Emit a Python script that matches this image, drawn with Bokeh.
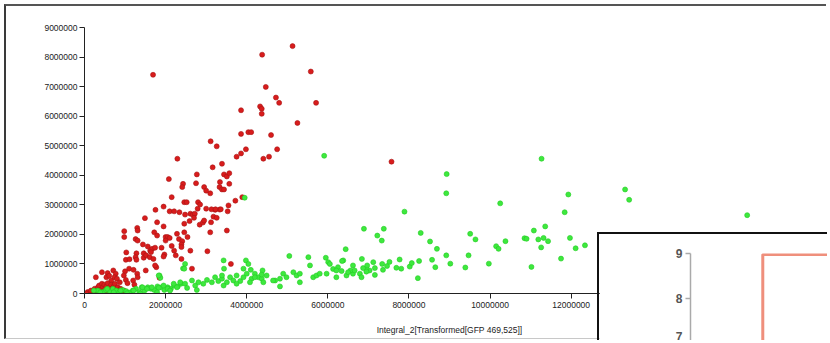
from bokeh.plotting import figure
from bokeh.models import ColumnDataSource, Range1d, FixedTicker, BasicTickFormatter
from bokeh.embed import file_html
from bokeh.resources import INLINE

# values in millions
UNIT = 1e6

red_x = [1.69, 4.38, 5.13, 5.58, 4.47, 4.72, 4.80, 5.71, 3.86, 4.33, 4.37, 4.37, 5.25, 3.86, 4.04, 4.11,
         4.60, 3.11, 3.26, 2.29, 3.98, 3.86, 3.75, 4.75, 4.55, 4.41, 3.16, 3.39, 7.57, 3.44, 3.51, 3.57,
         3.34, 3.57, 3.33, 3.39, 3.44, 3.10, 3.89, 3.72, 3.55, 3.53, 3.22, 3.33, 3.18, 3.12, 3.51, 3.10,
         3.61, 2.08, 2.77, 2.43, 2.41, 2.75, 2.95, 3.00, 2.15, 2.46, 2.52, 2.80, 1.95, 1.75, 2.10, 2.21,
         2.34, 2.48, 2.61, 2.67, 2.72, 2.79, 2.85, 3.00, 3.13, 3.23, 3.36, 1.49, 1.79, 1.95, 2.46, 2.59,
         2.70, 2.84, 2.92, 2.95, 3.26, 0.98, 0.98, 1.30, 1.31, 1.72, 1.79, 2.00, 2.05, 2.10, 2.00, 2.28,
         2.33, 2.41, 2.46, 2.54, 1.26, 1.31, 1.44, 1.56, 1.62, 1.67, 1.74, 1.90, 1.97, 1.95, 2.15, 2.21,
         2.25, 2.39, 2.39, 2.61, 3.03, 1.03, 1.02, 1.11, 1.28, 1.26, 1.28, 1.46, 1.46, 1.52, 1.64, 1.61,
         1.70, 1.10, 1.00, 1.21, 1.30, 1.31, 1.51, 1.77, 1.74, 1.85, 2.39, 2.65, 0.28, 0.43, 0.57, 0.54,
         0.61, 0.66, 0.71, 0.77, 0.74, 0.80, 0.87, 0.97, 1.02, 1.06, 1.20, 1.23,
         0.08, 0.15, 0.16, 0.25, 0.30, 0.33, 0.36, 0.39, 0.43, 0.46, 0.49, 0.51, 0.54, 0.57, 0.59, 0.62,
         0.66, 0.69, 0.72, 0.75, 0.79, 0.82, 0.85, 0.89, 0.92, 0.97, 1.02, 1.07, 0.25, 0.41, 0.33, 0.49,
         0.66, 0.05, 0.74]
red_y = [7.40, 8.08, 8.37, 7.51, 6.99, 6.63, 6.45, 6.45, 6.20, 6.33, 6.25, 6.08, 5.77, 5.40, 5.46, 5.46,
         5.36, 5.15, 4.98, 4.56, 4.88, 4.74, 4.63, 4.88, 4.63, 4.56, 4.27, 4.39, 4.46, 4.03, 3.96, 4.07,
         3.77, 3.71, 3.60, 3.52, 3.52, 3.39, 3.26, 3.14, 2.98, 2.78, 2.83, 2.84, 2.60, 2.41, 2.13, 2.07,
         1.00, 3.87, 4.03, 3.71, 3.60, 3.73, 3.60, 3.48, 3.26, 3.09, 3.09, 3.09, 2.94, 2.83, 2.78, 2.78,
         2.75, 2.67, 2.70, 2.67, 2.70, 2.87, 3.01, 2.87, 2.85, 2.85, 2.85, 2.55, 2.41, 2.27, 2.36, 2.45,
         2.56, 2.33, 2.40, 2.47, 2.56, 2.11, 1.91, 2.22, 2.13, 2.07, 1.96, 1.91, 1.91, 1.88, 1.79, 2.02,
         1.84, 1.77, 2.07, 1.91, 1.84, 1.79, 1.66, 1.59, 1.45, 1.51, 1.55, 1.55, 1.32, 1.25, 1.61, 1.45,
         1.29, 1.66, 1.57, 1.45, 1.43, 1.39, 1.14, 1.16, 1.36, 1.23, 1.14, 1.36, 1.21, 1.29, 1.40, 1.23,
         1.17, 0.84, 0.75, 0.80, 0.67, 0.55, 0.78, 0.89, 0.95, 0.53, 1.17, 0.84, 0.55, 0.72, 0.69, 0.55,
         0.60, 0.44, 0.78, 0.67, 0.55, 0.50, 0.38, 0.61, 0.46, 0.35, 0.44, 0.30,
         0.05, 0.00, 0.10, 0.16, 0.08, 0.21, 0.27, 0.12, 0.33, 0.21, 0.30, 0.15, 0.24, 0.35, 0.10, 0.21,
         0.30, 0.16, 0.24, 0.33, 0.12, 0.21, 0.08, 0.16, 0.01, 0.10, 0.03, 0.00, 0.00, 0.01, 0.05, 0.05,
         0.05, 0.00, 0.05]

green_x = [0.33, 0.45, 0.53, 0.62, 0.70, 0.78, 0.86, 0.94, 1.03, 1.11, 1.19, 1.27, 1.35, 1.41, 1.48, 1.56,
           1.64, 1.72, 1.80, 1.85, 1.87, 1.90, 1.97, 2.05, 2.13, 2.21, 2.30, 2.38, 2.43,
           0.23, 0.39, 0.56, 0.72, 0.89, 1.05, 1.21, 1.38, 1.43, 1.54, 1.66, 1.83, 1.95, 2.05, 2.20, 2.28,
           2.36, 2.48, 2.53, 2.65, 2.73, 2.81, 2.93, 3.02, 3.14, 3.22, 3.30, 3.39, 3.51, 3.59, 3.67, 3.75,
           3.84, 3.92, 4.00, 4.12, 4.20, 4.29, 4.37, 4.49, 2.11, 1.79, 2.77, 3.43, 3.75, 4.08, 4.41, 4.70,
           4.82, 5.31, 5.64, 5.97, 6.21, 6.62, 7.03,
           2.48, 2.46, 1.83, 3.43, 3.44, 3.39, 3.98, 4.04, 3.92, 4.10, 4.39, 4.37, 4.20, 5.05, 4.65, 4.82,
           4.90, 4.98, 5.15, 5.23, 5.31, 5.52, 5.56, 5.72, 5.80, 5.95, 6.01, 6.25, 6.38, 6.44, 6.46,
           6.56, 6.79, 6.95, 6.89, 7.22, 5.91, 3.95,
           7.89, 7.38, 7.33, 8.93, 8.92, 11.27, 11.93, 11.84, 10.25, 8.29, 8.52, 8.69, 8.92, 9.02, 9.51,
           9.64, 9.47, 9.39, 9.97, 10.15, 10.21, 10.38, 10.85, 10.90, 11.08, 11.36, 11.19, 11.32, 11.43,
           11.26, 11.02, 11.75, 11.97, 12.11, 12.34,
           6.05, 6.13, 6.21, 6.34, 6.35, 6.50, 6.62, 6.66, 6.84, 6.83, 6.87, 6.97, 6.95, 7.12, 7.16, 7.16,
           7.34, 7.36, 7.46, 7.52, 7.69, 7.77, 7.81, 8.02, 8.07, 8.25, 8.22, 8.57, 8.65,
           16.34, 13.33, 13.43]
green_y = [0.10, 0.05, 0.12, 0.08, 0.16, 0.10, 0.05, 0.12, 0.08, 0.03, 0.10, 0.16, 0.05, 0.21, 0.10, 0.21,
           0.16, 0.12, 0.24, 0.61, 0.53, 0.21, 0.12, 0.21, 0.16, 0.27, 0.24, 0.33, 0.85,
           0.10, 0.04, 0.16, 0.04, 0.10, 0.01, 0.10, 0.00, 0.21, 0.16, 0.21, 0.19, 0.27, 0.16, 0.33, 0.21,
           0.38, 0.33, 0.19, 0.44, 0.27, 0.38, 0.33, 0.46, 0.38, 0.55, 0.42, 0.50, 0.38, 0.55, 0.44, 0.61,
           0.42, 0.55, 0.67, 0.50, 0.67, 0.55, 0.50, 0.61, 0.10, 0.04, 0.12, 0.27, 0.33, 0.38, 0.38, 0.44,
           0.50, 0.38, 0.55, 0.67, 0.55, 0.67, 0.78,
           1.00, 0.84, 0.61, 1.12, 0.84, 0.61, 1.12, 1.00, 0.84, 0.80, 0.78, 0.64, 0.55, 1.27, 0.44, 0.24,
           0.67, 0.55, 0.72, 0.61, 0.67, 1.23, 0.95, 0.61, 0.67, 1.21, 1.06, 0.89, 1.12, 1.50, 0.61,
           0.78, 0.67, 0.84, 2.19, 1.96, 4.66, 3.24,
           2.77, 2.19, 1.79, 4.04, 3.39, 4.56, 3.35, 2.75, 3.05, 2.05, 1.76, 1.51, 1.29, 1.01, 2.02,
           1.83, 1.29, 0.88, 1.01, 1.60, 1.51, 1.77, 1.87, 1.85, 2.13, 2.27, 1.83, 1.88, 1.77,
           1.56, 0.90, 1.18, 1.88, 1.53, 1.63,
           1.00, 0.83, 0.78, 0.76, 1.10, 0.72, 0.95, 0.78, 1.17, 0.55, 0.86, 0.95, 0.74, 1.06, 0.86, 0.63,
           1.00, 0.80, 0.93, 1.07, 0.87, 1.15, 0.84, 0.91, 1.03, 1.10, 0.52, 1.14, 0.89,
           2.65, 3.52, 3.17]

x_ticks = [0, 2, 4, 6, 8, 10, 12, 14, 16, 18]
y_ticks = [0, 1, 2, 3, 4, 5, 6, 7, 8, 9]
x_label = "Integral_2[Transformed[GFP 469,525]]"

inset_ticks = [7, 8, 9]
inset_left = [0.52]
inset_right = [1.6]
inset_top = [8.98]
inset_bottom = [6.0]

FONT = "Liberation Sans"

red = ColumnDataSource(dict(x=[v * UNIT for v in red_x], y=[v * UNIT for v in red_y]))
green = ColumnDataSource(dict(x=[v * UNIT for v in green_x], y=[v * UNIT for v in green_y]))

p = figure(width=822, height=335, output_backend="svg", toolbar_location=None,
           x_range=Range1d(0, 18 * UNIT), y_range=Range1d(0, 9 * UNIT),
           min_border_left=78, min_border_right=14, min_border_top=21, min_border_bottom=48,
           styles={"position": "absolute", "left": "4px", "top": "4px",
                   "border-left": "2px solid #3a3a3a", "border-top": "2px solid #555555",
                   "border-bottom": "1px solid #c8c8c8"})
p.outline_line_color = None
p.grid.visible = False
p.background_fill_color = "white"
p.border_fill_color = "white"

p.scatter("x", "y", source=red, size=5, fill_color="#d81c1c", line_color="#a81414", line_width=0.6)
p.scatter("x", "y", source=green, size=5, fill_color="#3ee83e", line_color="#22cc22", line_width=0.6)

for ax in (p.xaxis[0], p.yaxis[0]):
    ax.formatter = BasicTickFormatter(use_scientific=False)
    ax.axis_line_color = "#222222"
    ax.major_tick_line_color = "#222222"
    ax.major_tick_out = 5
    ax.major_tick_in = 0
    ax.minor_tick_line_color = None
    ax.major_label_text_font = FONT
    ax.major_label_text_font_size = "8.5px"
    ax.major_label_text_color = "#222222"
    ax.major_label_standoff = 2
p.xaxis.ticker = FixedTicker(ticks=[t * UNIT for t in x_ticks])
p.yaxis.ticker = FixedTicker(ticks=[t * UNIT for t in y_ticks])
p.xaxis.major_label_standoff = 3
p.xaxis.axis_label = x_label
p.xaxis.axis_label_text_font = FONT
p.xaxis.axis_label_text_font_size = "8.5px"
p.xaxis.axis_label_text_font_style = "normal"
p.xaxis.axis_label_text_color = "#222222"
p.xaxis.axis_label_standoff = 14

inset = figure(width=230, height=108, output_backend="svg", toolbar_location=None,
               x_range=Range1d(0, 1), y_range=Range1d(7, 9),
               min_border_left=91, min_border_right=0, min_border_top=19, min_border_bottom=0,
               styles={"position": "absolute", "left": "597px", "top": "232px",
                       "border-left": "2px solid #111111", "border-top": "2px solid #111111"})
inset.outline_line_color = None
inset.grid.visible = False
inset.xaxis.visible = False
inset.quad(left=inset_left, right=inset_right, top=inset_top, bottom=inset_bottom,
           fill_color=None, line_color="#ef8f7c", line_width=3)
ya = inset.yaxis[0]
ya.ticker = FixedTicker(ticks=inset_ticks)
ya.axis_line_color = "#aaaaaa"
ya.axis_line_width = 1.5
ya.major_tick_line_color = "#aaaaaa"
ya.major_tick_line_width = 1.5
ya.major_tick_out = 5
ya.major_tick_in = 0
ya.minor_tick_line_color = None
ya.major_label_text_font = FONT
ya.major_label_text_font_size = "12px"
ya.major_label_text_font_style = "bold"
ya.major_label_text_color = "#555555"
ya.major_label_standoff = 3

open("out.html", "w").write(file_html([p, inset], INLINE))
